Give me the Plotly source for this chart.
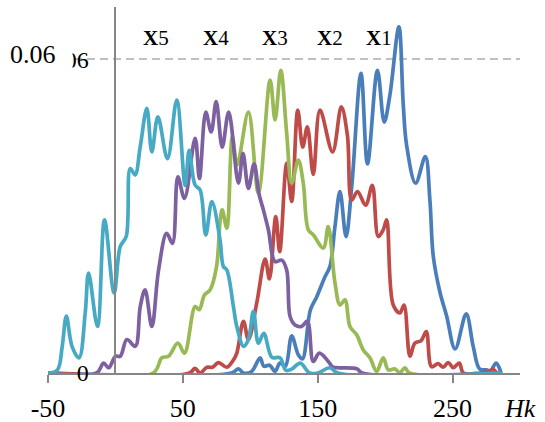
import plotly.graph_objects as go

# Hk grid positions and distribution densities for the five samples
x1_hk = [-50, 86, 91.2, 95, 101, 107.3, 110, 114.3, 118.4, 122, 126, 130.7, 135.6, 138.7,
         144.5, 149.3, 155.4, 159.1, 162.8, 166.5, 171, 175.2, 182.1, 186.9, 194.3, 199.3,
         203.5, 210.2, 213.4, 215.9, 222.6, 229.8, 233.2, 235.7, 240.6, 245.5, 251.9, 260.1,
         265.3, 270, 275, 278, 282.3, 286]
x1_den = [0, 0, 0.0008, 0, 0.0003, 0.0029, 0.0013, 0.0015, 0.0003, 0.0019, 0.0013, 0.0071,
          0.0035, 0.0027, 0.0120, 0.0146, 0.0184, 0.0204, 0.0280, 0.0347, 0.0261, 0.0356,
          0.0573, 0.0400, 0.0579, 0.0480, 0.0531, 0.0662, 0.0515, 0.0436, 0.0363, 0.0414,
          0.0330, 0.0223, 0.0155, 0.0110, 0.0046, 0.0113, 0.0051, 0.0008, 0.0006, 0.0004,
          0.0019, 0]

x2_hk = [-50, 55, 59, 62.8, 67.8, 72, 76.4, 82.6, 87.5, 90, 94.9, 98.6, 104.8, 111, 114.2,
         118.9, 121.8, 127, 130.7, 135.2, 138.9, 142.3, 146.7, 151.7, 161, 167.5, 172, 175.2,
         179.5, 185.5, 190.5, 194.9, 198.6, 201.1, 206, 211, 214, 218.4, 222, 226.7, 230.5,
         234.4, 239.3, 243, 246.8, 250.5, 255, 258, 270, 276, 280, 283, 286]
x2_den = [0, 0, 0.0009, 0, 0.0011, 0.0011, 0.0020, 0.0011, 0.0025, 0.0038, 0.0099, 0.0064,
          0.0134, 0.0218, 0.0180, 0.0299, 0.0232, 0.0401, 0.0328, 0.0503, 0.0432, 0.0471,
          0.0380, 0.0503, 0.0423, 0.0509, 0.0455, 0.0331, 0.0347, 0.0321, 0.0359, 0.0261,
          0.0274, 0.0293, 0.0130, 0.0115, 0.0130, 0.0032, 0.0057, 0.0062, 0.0079, 0.0012,
          0.0018, 0.0011, 0.0020, 0.0010, 0.0019, 0, 0, 0.0002, 0.0007, 0, 0]

x3_hk = [-50, 28, 34.4, 39.3, 46.3, 51.2, 59.1, 62.1, 66, 70.2, 75, 77.6, 79.2, 82.6, 86.7,
         90.3, 98.6, 106, 114.7, 118.4, 122.6, 127, 130.7, 135.6, 139.3, 143, 146.8, 154.2,
         157.8, 162.8, 166.5, 170.2, 173.9, 178.9, 183.8, 188.7, 193.7, 198.6, 202.3, 207,
         211, 214.7, 218, 286]
x3_den = [0, 0, 0.0029, 0.0032, 0.0057, 0.0038, 0.0127, 0.0121, 0.0149, 0.0159, 0.0204,
          0.0290, 0.0312, 0.0277, 0.0452, 0.0398, 0.0499, 0.0344, 0.0560, 0.0484, 0.0579,
          0.0458, 0.0363, 0.0407, 0.0363, 0.0274, 0.0264, 0.0239, 0.0280, 0.0172, 0.0130,
          0.0140, 0.0089, 0.0073, 0.0044, 0.0029, 0.0003, 0.0029, 0.0006, 0.0008, 0.0001,
          0.0010, 0, 0]

x4_hk = [-50, -14, -8.8, -5, 0, 3.6, 8.5, 14.7, 18.4, 22, 27, 32, 38, 42.3, 46.3, 51.2,
         59.1, 62.3, 67, 71, 74.7, 79.2, 84, 91.2, 94.6, 98.6, 102.8, 106.5, 109.7, 113.4,
         118.4, 123.3, 127, 129.5, 133.2, 138, 142.3, 146.7, 151.2, 157.9, 161, 165, 179,
         183, 286]
x4_den = [0, 0, 0.0019, 0.0010, 0.0032, 0.0032, 0.0064, 0.0051, 0.0127, 0.0159, 0.0089,
          0.0197, 0.0267, 0.0248, 0.0375, 0.0334, 0.0449, 0.0372, 0.0499, 0.0461, 0.0519,
          0.0432, 0.0499, 0.0363, 0.0420, 0.0353, 0.0400, 0.0342, 0.0312, 0.0274, 0.0213,
          0.0216, 0.0197, 0.0108, 0.0092, 0.0089, 0.0099, 0.0022, 0.0038, 0.0022, 0.0012,
          0.0010, 0.0008, 0, 0]

x5_hk = [-50, -43, -39.5, -36.4, -32.2, -27, -22.4, -19.9, -13.3, -8.1, -1, 3.6, 8, 11,
         14.6, 18.4, 23.3, 27, 31.5, 38.6, 45.5, 51.7, 54.7, 59, 62.8, 67, 71.5, 77.6, 80,
         82.6, 87.5, 90, 95, 98.6, 102.3, 106, 110, 116, 122, 126.5, 131, 137, 144, 150,
         159, 165, 286]
x5_den = [0, 0.0006, 0.0050, 0.0109, 0.0051, 0.0029, 0.0115, 0.0191, 0.0089, 0.0293,
          0.0153, 0.0242, 0.0261, 0.0391, 0.0379, 0.0433, 0.0506, 0.0423, 0.0490, 0.0410,
          0.0522, 0.0359, 0.0426, 0.0360, 0.0350, 0.0264, 0.0328, 0.0254, 0.0204, 0.0197,
          0.0127, 0.0089, 0.0051, 0.0064, 0.0118, 0.0057, 0.0076, 0.0030, 0.0029, 0.0005,
          0.0008, 0.0019, 0, 0, 0.0010, 0, 0]

series = [
    ("X1", x1_hk, x1_den, "#4A7EBB"),
    ("X2", x2_hk, x2_den, "#BE4B48"),
    ("X3", x3_hk, x3_den, "#98B954"),
    ("X4", x4_hk, x4_den, "#7D60A0"),
    ("X5", x5_hk, x5_den, "#46AAC5"),
]

# curve labels along the top of the chart
label_names = ["X5", "X4", "X3", "X2", "X1"]
label_hk = [30.2, 74.7, 118.4, 159.1, 195.4]
label_den = [0.0640, 0.0640, 0.0640, 0.0640, 0.0640]

x_ticks = [-50, 50, 150, 250]
x_ticktext = ["-50", "50", "150", "250"]
y_ticks = [0, 0.06]
y_ticktext = ["0", "0.06"]

SERIF = "Liberation Serif"
AXIS_GRAY = "#868686"

MARGIN_L, MARGIN_R, MARGIN_T, MARGIN_B = 48, 25, 7, 49
PLOT_W = 545 - MARGIN_L - MARGIN_R

fig = go.Figure()
for name, xs, ys, color in series:
    fig.add_trace(go.Scatter(
        x=xs, y=ys, mode="lines", name=name,
        line=dict(color=color, width=3.7, shape="spline", smoothing=1.0),
        hoverinfo="skip",
    ))

for name, lx, ly in zip(label_names, label_hk, label_den):
    fig.add_annotation(
        x=lx, y=ly, xref="x", yref="y",
        text=f"<b>{name[0]}</b>{name[1:]}", showarrow=False,
        font=dict(family=SERIF, size=21, color="black"),
    )

# overlapping value label on the left of the axis
fig.add_annotation(
    x=(9 - MARGIN_L) / PLOT_W, y=0.0610, xref="paper", yref="y",
    text="0.06", showarrow=False, xanchor="left", yanchor="middle", align="left",
    width=62, bgcolor="white", borderpad=0,
    font=dict(family=SERIF, size=26, color="black"),
)

fig.add_annotation(
    x=0.9996, y=-0.098, xref="paper", yref="paper",
    text="<i>Hk</i>", showarrow=False, xanchor="center", yanchor="middle",
    font=dict(family=SERIF, size=26, color="black"),
)

fig.update_layout(
    width=545, height=422,
    margin=dict(l=MARGIN_L, r=MARGIN_R, t=MARGIN_T, b=MARGIN_B, autoexpand=False),
    paper_bgcolor="white", plot_bgcolor="white",
    showlegend=False,
    xaxis=dict(
        range=[-50, 300], tickvals=x_ticks, ticktext=x_ticktext,
        showline=True, linecolor=AXIS_GRAY, linewidth=2,
        ticks="outside", ticklen=8, tickwidth=2, tickcolor=AXIS_GRAY,
        showgrid=False, zeroline=False, automargin=False,
        tickfont=dict(family=SERIF, size=26, color="black"),
        ticklabelstandoff=3,
    ),
    yaxis=dict(
        range=[0, 0.07], tickvals=y_ticks, ticktext=y_ticktext,
        anchor="free", position=50 / 350,
        showline=True, linecolor=AXIS_GRAY, linewidth=2,
        ticks="", showgrid=True, gridcolor="#C0C0C0", gridwidth=2,
        griddash="8px,5px", zeroline=False, automargin=False,
        tickfont=dict(family=SERIF, size=24, color="black"),
        ticklabelstandoff=21,
    ),
)

fig.write_html("out.html")
